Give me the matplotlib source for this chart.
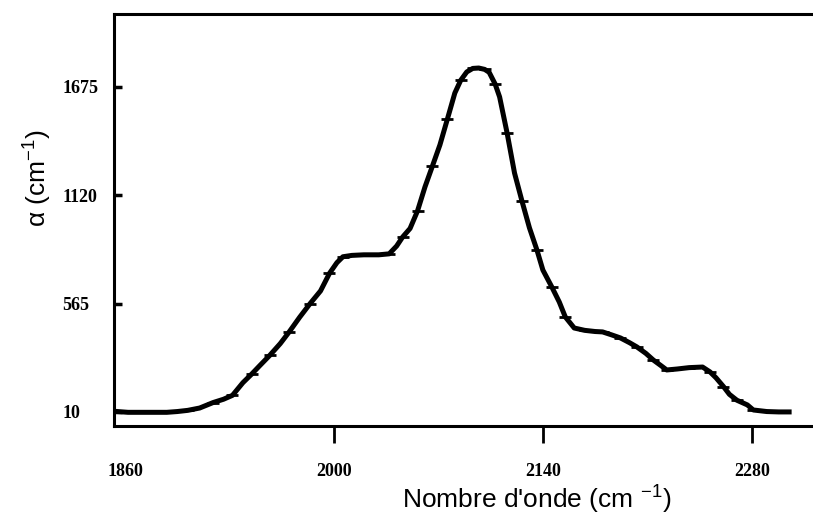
import matplotlib.pyplot as plt

plt.rcParams['mathtext.default'] = 'regular'

# wavenumber (cm-1) and absorption coefficient
wavenumber = [1855, 1862, 1870, 1880, 1888, 1895, 1902, 1910, 1919, 1926,
              1932, 1939, 1945, 1950, 1957, 1964, 1970, 1977, 1984, 1991,
              1997, 2002, 2006, 2012, 2020, 2030, 2037, 2042, 2046, 2051,
              2056, 2061, 2066, 2071, 2076, 2081, 2085, 2089, 2093, 2097,
              2101, 2104, 2108, 2111, 2116, 2121, 2126, 2131, 2136, 2140,
              2146, 2151, 2155, 2161, 2168, 2175, 2180, 2186, 2192, 2198,
              2203, 2209, 2214, 2219, 2223, 2230, 2238, 2247, 2252, 2256,
              2261, 2265, 2270, 2277, 2281, 2290, 2298, 2305]
alpha = [12, 8, 8, 8, 8, 12, 18, 30, 58, 75,
         95, 160, 205, 245, 300, 360, 420, 495, 565, 630,
         720, 775, 805, 812, 815, 815, 820, 860, 906, 950,
         1040, 1163, 1270, 1378, 1510, 1644, 1710, 1752, 1770, 1772,
         1765, 1750, 1690, 1624, 1440, 1234, 1090, 953, 840, 737,
         650, 573, 497, 440, 428, 422, 420, 405, 389, 365,
         343, 310, 276, 248, 225, 230, 237, 240, 215, 185,
         140, 100, 70, 46, 20, 12, 10, 10]

xticks = [1860, 2000, 2140, 2280]
yticks = [10, 565, 1120, 1675]

fig = plt.figure(figsize=(8.13, 5.25), dpi=100)
ax = fig.add_axes([0.1402, 0.1886, 0.8598, 0.7848])

ax.plot(wavenumber, alpha, color='black', lw=3.6, marker='_', ms=8, mew=2,
        markevery=2)

ax.set_xlim(1852.6, 2321)
ax.set_ylim(-62, 2049)

ax.spines['right'].set_visible(False)
for s in ['left', 'top', 'bottom']:
    ax.spines[s].set_linewidth(2.2)

tickfont = {'family': 'Liberation Serif', 'weight': 'bold', 'size': 13}

ax.set_xticks(xticks)
ax.set_xticklabels([str(v) for v in xticks], fontdict=tickfont)
ax.tick_params(axis='x', direction='out', length=12, width=2, pad=15)
ax.xaxis.get_major_ticks()[0].tick1line.set_visible(False)

ax.set_yticks(yticks)
ax.set_yticklabels([str(v) for v in yticks], fontdict=tickfont, ha='left')
ax.tick_params(axis='y', direction='in', length=6, width=2.5, pad=37)

ax.set_xlabel("Nombre d'onde (cm $^{-1}$)", family='Liberation Sans', fontsize=19)
ax.xaxis.set_label_coords(0.605, -0.14)
ax.set_ylabel(r"$\alpha$ (cm$^{-1}$)", family='Liberation Sans', fontsize=19)
ax.yaxis.set_label_coords(-0.086, 0.602)

fig.savefig('out.png', dpi=100)
